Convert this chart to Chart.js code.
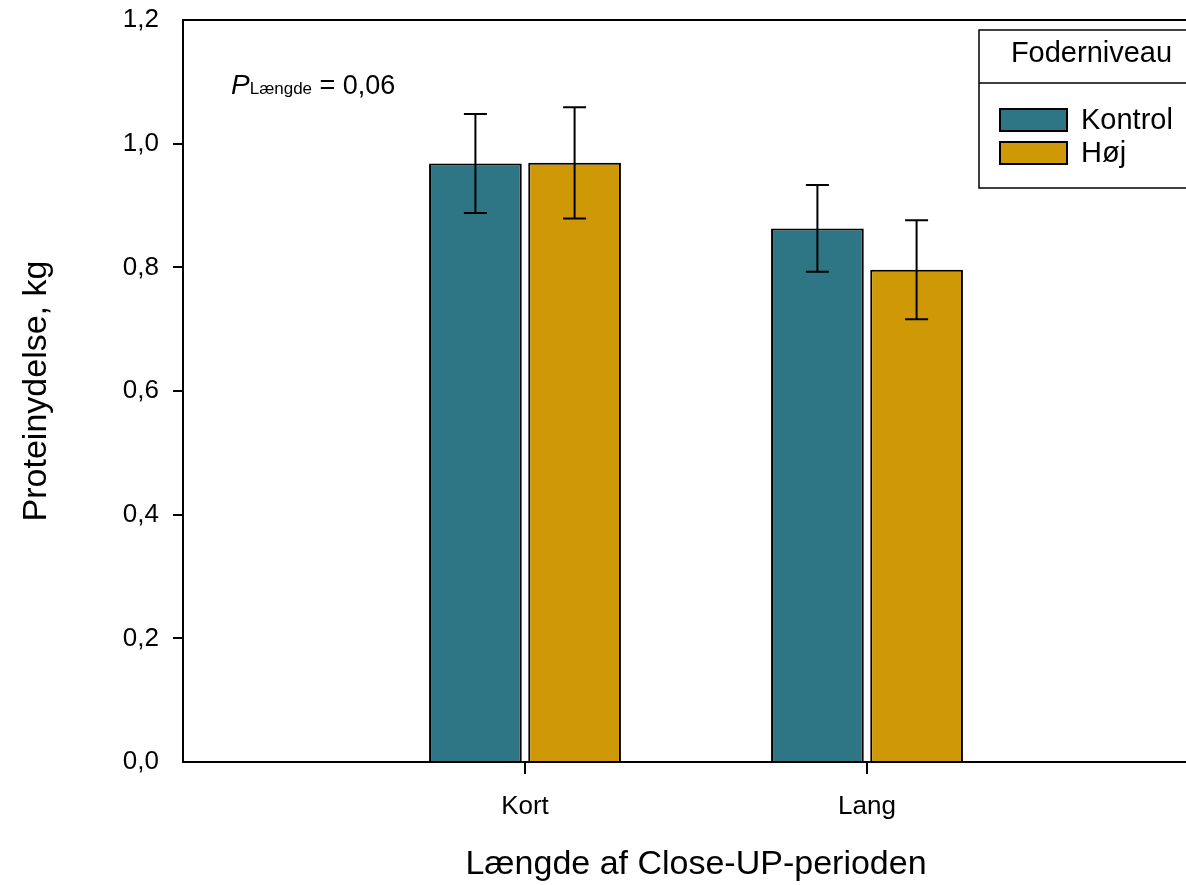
<!DOCTYPE html>
<html>
<head>
<meta charset="utf-8">
<script src="https://cdn.jsdelivr.net/npm/chart.js@4.4.1/dist/chart.umd.min.js"></script>
<style>
  html, body { margin: 0; padding: 0; background: #fff; overflow: hidden; }
  canvas { display: block; }
</style>
</head>
<body>
<canvas id="grafico" width="1230" height="885"></canvas>
<script>
// data
const categories = ['', 'Kort', 'Lang', ''];
const kontrol = [null, 0.968, 0.863, null];
const hoj = [null, 0.969, 0.796, null];
const kontrolErr = [null, 0.080, 0.070, null];
const hojErr = [null, 0.090, 0.080, null];
const yTicks = [0, 0.2, 0.4, 0.6, 0.8, 1.0, 1.2];

const FONT = '"Liberation Sans", Arial, sans-serif';
const teal = '#2e7586';
const gold = '#cf9807';

// error bars on top of each bar
const errorBars = {
    id: 'errorBars',
    afterDatasetsDraw(chart) {
        const ctx = chart.ctx;
        const y = chart.scales.y;
        const errs = [kontrolErr, hojErr];
        ctx.save();
        ctx.strokeStyle = '#000';
        ctx.lineWidth = 2;
        chart.data.datasets.forEach((ds, i) => {
            const meta = chart.getDatasetMeta(i);
            meta.data.forEach((bar, j) => {
                const v = ds.data[j];
                if (v === null) return;
                const e = errs[i][j];
                const top = y.getPixelForValue(v + e);
                const bot = y.getPixelForValue(v - e);
                const cap = 11.5;
                ctx.beginPath();
                ctx.moveTo(bar.x, top); ctx.lineTo(bar.x, bot);
                ctx.moveTo(bar.x - cap, top); ctx.lineTo(bar.x + cap, top);
                ctx.moveTo(bar.x - cap, bot); ctx.lineTo(bar.x + cap, bot);
                ctx.stroke();
            });
        });
        ctx.restore();
    }
};

// top frame line, P-value note and the boxed legend
const extras = {
    id: 'extras',
    afterDraw(chart) {
        const ctx = chart.ctx;
        const a = chart.chartArea;
        ctx.save();
        ctx.strokeStyle = '#000';
        ctx.lineWidth = 2;
        ctx.beginPath();
        ctx.moveTo(a.left - 1, a.top);
        ctx.lineTo(a.right, a.top);
        ctx.stroke();

        // P Længde = 0,06
        ctx.fillStyle = '#000';
        ctx.textBaseline = 'alphabetic';
        ctx.textAlign = 'left';
        let x = 231;
        const base = a.top + 74;
        ctx.font = 'italic 28px ' + FONT;
        ctx.fillText('P', x, base);
        x += ctx.measureText('P').width;
        ctx.font = '17px ' + FONT;
        ctx.fillText('Længde', x, base);
        x += ctx.measureText('Længde').width;
        ctx.font = '27px ' + FONT;
        ctx.fillText(' = 0,06', x, base);

        // legend box
        const L = 979, T = a.top + 10, R = 1204, B = a.top + 168, S = a.top + 63;
        ctx.lineWidth = 1.5;
        ctx.fillStyle = '#fff';
        ctx.fillRect(L, T, R - L, B - T);
        ctx.strokeRect(L, T, R - L, B - T);
        ctx.beginPath();
        ctx.moveTo(L, S); ctx.lineTo(R, S);
        ctx.stroke();
        ctx.fillStyle = '#000';
        ctx.font = '29px ' + FONT;
        ctx.textAlign = 'center';
        ctx.textBaseline = 'middle';
        ctx.fillText('Foderniveau', (L + R) / 2, T + 24);

        const items = [
            { label: 'Kontrol', color: teal, y: a.top + 89 },
            { label: 'Høj', color: gold, y: a.top + 122 }
        ];
        ctx.textAlign = 'left';
        ctx.font = '29px ' + FONT;
        items.forEach(it => {
            ctx.fillStyle = it.color;
            ctx.fillRect(1000, it.y, 67, 22);
            ctx.strokeStyle = '#000';
            ctx.lineWidth = 2;
            ctx.strokeRect(1000, it.y, 67, 22);
            ctx.fillStyle = '#000';
            ctx.fillText(it.label, 1081, it.y + 12);
        });
        ctx.restore();
    }
};

const ctx = document.getElementById('grafico').getContext('2d');
new Chart(ctx, {
    type: 'bar',
    data: {
        labels: categories,
        datasets: [
            {
                label: 'Kontrol',
                data: kontrol,
                backgroundColor: teal,
                borderColor: '#000',
                borderWidth: 2,
                categoryPercentage: 0.58,
                barPercentage: 0.935
            },
            {
                label: 'Høj',
                data: hoj,
                backgroundColor: gold,
                borderColor: '#000',
                borderWidth: 2,
                categoryPercentage: 0.58,
                barPercentage: 0.935
            }
        ]
    },
    options: {
        responsive: false,
        animation: false,
        devicePixelRatio: 1,
        layout: { padding: { top: 20, right: 21, left: 0, bottom: 0 } },
        plugins: {
            legend: { display: false },
            tooltip: { enabled: false }
        },
        scales: {
            x: {
                offset: false,
                afterFit(scale) { scale.height = 123; scale.paddingLeft = 0; scale.paddingRight = 0; },
                grid: {
                    offset: false,
                    drawOnChartArea: false,
                    tickLength: 12,
                    lineWidth: 2,
                    color: c => (c.index === 0 || c.index === categories.length - 1) ? 'rgba(0,0,0,0)' : '#000'
                },
                border: { display: true, color: '#000', width: 2 },
                ticks: {
                    color: '#000',
                    padding: 17,
                    font: { family: FONT, size: 26 }
                },
                title: {
                    display: true,
                    text: 'Længde af Close-UP-perioden',
                    color: '#000',
                    padding: { top: 0, bottom: 0 },
                    font: { family: FONT, size: 34 }
                }
            },
            y: {
                min: yTicks[0],
                max: yTicks[yTicks.length - 1],
                afterFit(scale) { scale.width = 183; scale.paddingTop = 0; scale.paddingBottom = 0; },
                afterBuildTicks(scale) { scale.ticks = yTicks.map(v => ({ value: v })); },
                grid: {
                    drawOnChartArea: false,
                    tickLength: 10,
                    lineWidth: 2,
                    color: c => (c.index === 0 || c.index === yTicks.length - 1) ? 'rgba(0,0,0,0)' : '#000'
                },
                border: { display: true, color: '#000', width: 2 },
                ticks: {
                    color: '#000',
                    padding: 14,
                    font: { family: FONT, size: 26 },
                    callback: v => v.toFixed(1).replace('.', ',')
                },
                title: {
                    display: true,
                    text: 'Proteinydelse, kg',
                    color: '#000',
                    padding: { top: 16, bottom: 0 },
                    font: { family: FONT, size: 34 }
                }
            }
        }
    },
    plugins: [errorBars, extras]
});
</script>
</body>
</html>
